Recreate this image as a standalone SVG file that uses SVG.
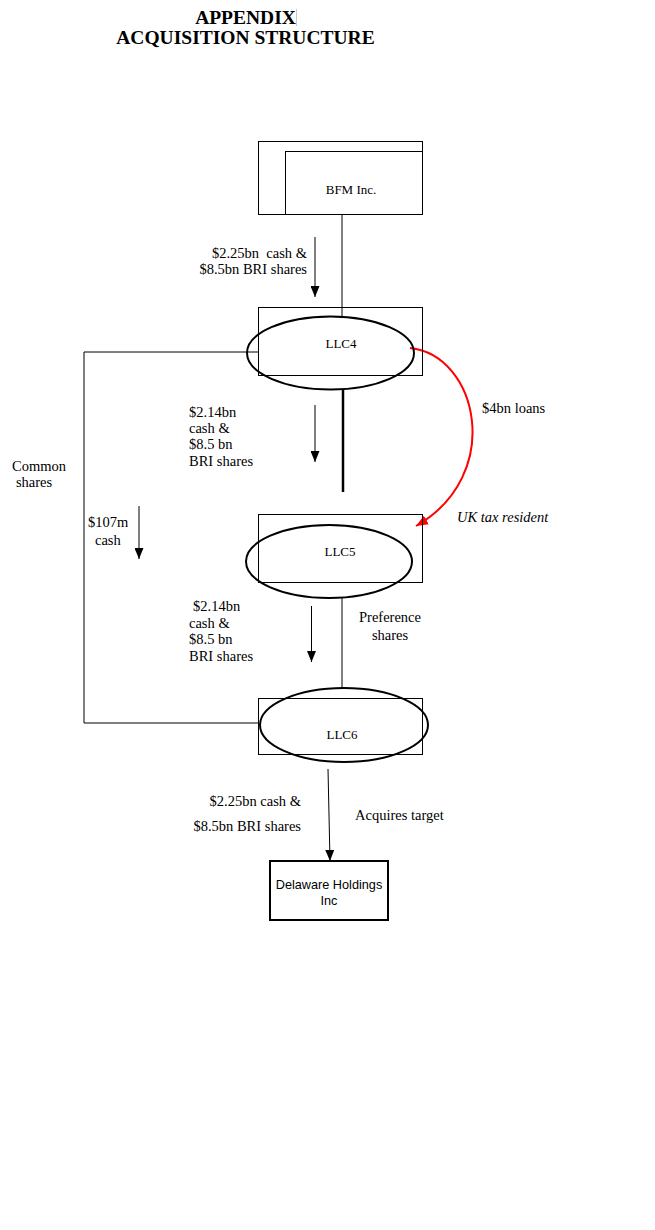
<svg xmlns="http://www.w3.org/2000/svg" width="655" height="1230" viewBox="0 0 655 1230">
<style>
  .t { font-family: "Liberation Serif", "Times New Roman", serif; font-size: 14.5px; fill: #000; }
  .n { font-family: "Liberation Serif", "Times New Roman", serif; font-size: 13px; fill: #000; }
  .title { font-family: "Liberation Serif", "Times New Roman", serif; font-size: 19.5px; font-weight: bold; fill: #000; }
  .sans { font-family: "Liberation Sans", Arial, sans-serif; font-size: 12.7px; fill: #000; }
  .box { fill: none; stroke: #000; stroke-width: 1; }
  .oval { fill: none; stroke: #000; stroke-width: 2; }
  .ln { fill: none; stroke: #000; stroke-width: 1; }
  .arr { fill: none; stroke: #000; stroke-width: 1; marker-end: url(#ah); }
</style>
<defs>
  <marker id="ah" markerUnits="userSpaceOnUse" markerWidth="11" markerHeight="9" refX="11" refY="4.5" orient="auto">
    <path d="M0,0 L11,4.5 L0,9 z" fill="#000"/>
  </marker>
  <marker id="ahr" markerUnits="userSpaceOnUse" markerWidth="12" markerHeight="10" refX="12" refY="5" orient="auto">
    <path d="M0,0 L12,5 L0,10 z" fill="#ff0000"/>
  </marker>
</defs>
<rect width="655" height="1230" fill="#fff"/>

<g id="title">
  <text class="title" x="245.5" y="23.5" text-anchor="middle">APPENDIX</text>
  <line x1="296.5" y1="9" x2="296.5" y2="26" stroke="#c8c8c8" stroke-width="1"/>
  <text class="title" x="245.5" y="44" text-anchor="middle">ACQUISITION STRUCTURE</text>
</g>

<g id="connectors">
  <line class="ln" x1="342" y1="215" x2="342" y2="317"/>
  <polyline class="ln" points="258,352 84,352 84,723 258,723"/>
  <line x1="343" y1="389" x2="343" y2="492" stroke="#000" stroke-width="2.5"/>
  <line class="ln" x1="342" y1="598" x2="342" y2="688"/>
  <path d="M410,348 C478,355 505,475 416,526" fill="none" stroke="#ff0000" stroke-width="2" marker-end="url(#ahr)"/>
  <line class="arr" x1="315" y1="237" x2="315" y2="297"/>
  <line class="arr" x1="315" y1="405" x2="315" y2="462"/>
  <line class="arr" x1="139" y1="506" x2="139" y2="559"/>
  <line class="arr" x1="311.5" y1="606" x2="311.5" y2="662"/>
  <line class="arr" x1="328" y1="769" x2="330" y2="861"/>

  <text class="t" x="307" y="258" text-anchor="end" xml:space="preserve">$2.25bn  cash &amp;</text>
  <text class="t" x="307" y="274" text-anchor="end">$8.5bn BRI shares</text>

  <text class="t" x="189" y="417">$2.14bn</text>
  <text class="t" x="189" y="433">cash &amp;</text>
  <text class="t" x="189" y="449">$8.5 bn</text>
  <text class="t" x="189" y="466">BRI shares</text>

  <text class="t" x="482" y="413">$4bn loans</text>
  <text class="t" x="457" y="522" font-style="italic">UK tax resident</text>

  <text class="t" x="39" y="471" text-anchor="middle">Common</text>
  <text class="t" x="34" y="487" text-anchor="middle">shares</text>

  <text class="t" x="88" y="527">$107m</text>
  <text class="t" x="95" y="545">cash</text>

  <text class="t" x="193" y="611">$2.14bn</text>
  <text class="t" x="189" y="628">cash &amp;</text>
  <text class="t" x="189" y="644">$8.5 bn</text>
  <text class="t" x="189" y="661">BRI shares</text>

  <text class="t" x="390" y="622" text-anchor="middle">Preference</text>
  <text class="t" x="390" y="640" text-anchor="middle">shares</text>

  <text class="t" x="301" y="806" text-anchor="end">$2.25bn cash &amp;</text>
  <text class="t" x="301" y="831" text-anchor="end">$8.5bn BRI shares</text>
  <text class="t" x="355" y="820">Acquires target</text>
</g>

<g id="bfm">
  <rect class="box" x="258.5" y="141.5" width="164" height="73"/>
  <rect class="box" x="285.5" y="151.5" width="137" height="63"/>
  <text class="n" x="351" y="194" text-anchor="middle">BFM Inc.</text>
</g>

<g id="llc4">
  <rect class="box" x="258.5" y="307.5" width="164" height="68"/>
  <ellipse class="oval" cx="330.5" cy="353" rx="83.5" ry="36.5"/>
  <text class="n" x="341" y="348" text-anchor="middle">LLC4</text>
</g>

<g id="llc5">
  <rect class="box" x="258.5" y="514.5" width="164" height="68"/>
  <ellipse class="oval" cx="329" cy="561.5" rx="83" ry="36.5"/>
  <text class="n" x="340" y="556" text-anchor="middle">LLC5</text>
</g>

<g id="llc6">
  <rect class="box" x="258.5" y="698.5" width="164" height="56"/>
  <ellipse class="oval" cx="344" cy="725" rx="84" ry="37"/>
  <text class="n" x="342" y="739" text-anchor="middle">LLC6</text>
</g>

<g id="delaware">
  <rect x="270" y="861" width="118" height="59" fill="none" stroke="#000" stroke-width="2"/>
  <text class="sans" x="329" y="889" text-anchor="middle">Delaware Holdings</text>
  <text class="sans" x="329" y="905" text-anchor="middle">Inc</text>
</g>
</svg>
